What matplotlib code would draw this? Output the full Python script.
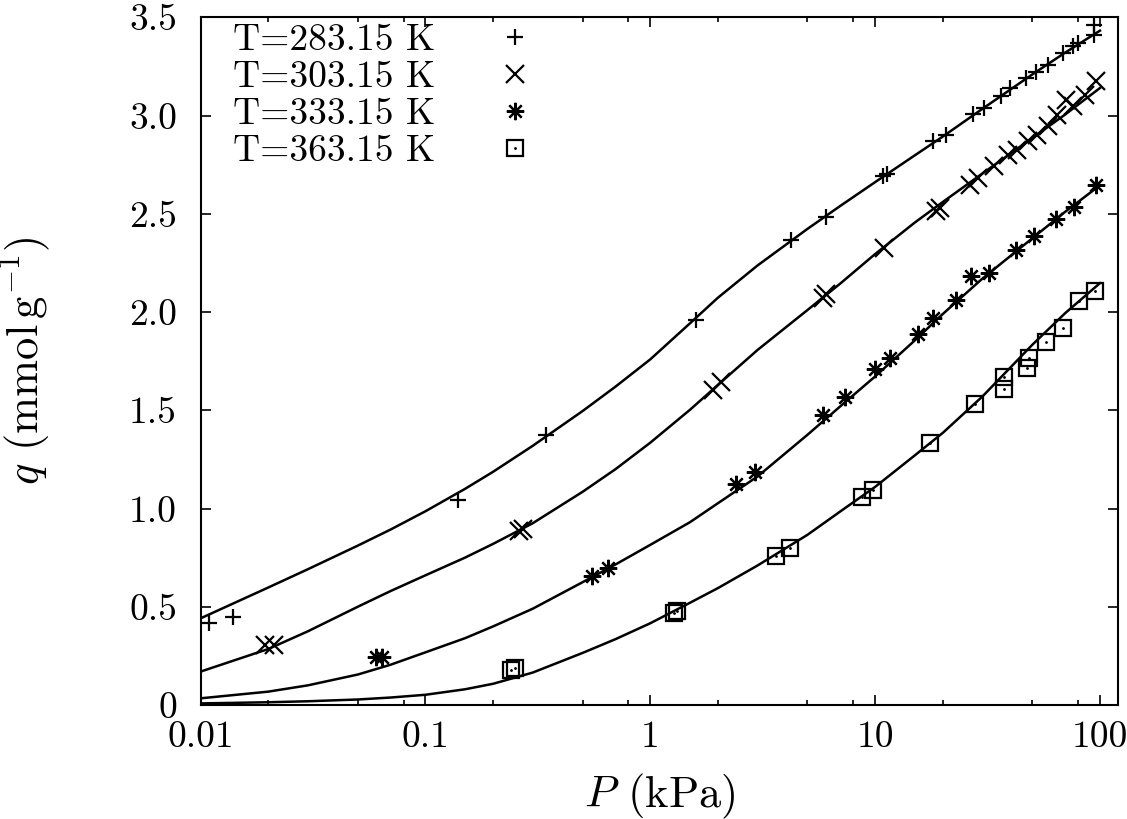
"""CO2 isotherms: q vs P at four temperatures (log P axis)."""
import matplotlib
matplotlib.use("Agg")
import matplotlib.pyplot as plt
from matplotlib.ticker import FixedLocator, FuncFormatter, LogLocator, NullFormatter

plt.rcParams["font.family"] = ["cmr10", "DejaVu Serif"]
plt.rcParams["mathtext.fontset"] = "cm"
plt.rcParams["axes.formatter.use_mathtext"] = True

# measured points (kPa, mmol/g)
p_283 = [0.0109, 0.0140, 0.140, 0.345, 1.60, 4.24, 6.06, 10.8, 11.3, 18.0, 20.7,
         27.2, 30.6, 36.3, 40.0, 47.0, 52.0, 59.0, 68.3, 75.9, 79.6, 94.3, 94.3]
q_283 = [0.419, 0.450, 1.044, 1.375, 1.957, 2.368, 2.483, 2.690, 2.700, 2.868, 2.902,
         3.010, 3.038, 3.100, 3.140, 3.190, 3.220, 3.259, 3.318, 3.352, 3.369, 3.410, 3.462]

p_303 = [0.0193, 0.0212, 0.262, 0.272, 1.90, 2.06, 5.85, 6.05, 11.0, 18.6, 19.4,
         26.5, 28.6, 33.8, 38.9, 42.9, 47.8, 52.6, 58.6, 64.3, 70.7, 75.9, 85.7, 96.2]
q_303 = [0.305, 0.305, 0.885, 0.895, 1.604, 1.646, 2.070, 2.090, 2.325, 2.515, 2.530,
         2.648, 2.682, 2.741, 2.800, 2.826, 2.868, 2.902, 2.945, 3.004, 3.080, 3.046, 3.106, 3.174]

p_333 = [0.060, 0.064, 0.553, 0.649, 2.41, 2.91, 5.86, 7.31, 9.94, 11.7, 15.5, 18.0,
         22.9, 26.7, 32.2, 42.4, 51.1, 63.8, 76.9, 96.2]
q_333 = [0.246, 0.246, 0.657, 0.696, 1.125, 1.188, 1.477, 1.567, 1.709, 1.765, 1.889, 1.969,
         2.059, 2.184, 2.201, 2.317, 2.388, 2.473, 2.537, 2.648]

p_363 = [0.240, 0.250, 1.28, 1.31, 3.63, 4.19, 8.77, 9.77, 17.5, 27.9, 37.6, 37.6,
         47.2, 48.2, 57.5, 68.3, 80.9, 95.5]
q_363 = [0.180, 0.187, 0.470, 0.476, 0.759, 0.801, 1.061, 1.095, 1.333, 1.533, 1.607, 1.667,
         1.714, 1.765, 1.845, 1.921, 2.054, 2.105]

# fitted curves
p_fit = [0.01, 0.02, 0.03, 0.05, 0.07, 0.1, 0.15, 0.2, 0.3, 0.5, 0.7, 1, 1.5, 2, 3, 5, 7,
         10, 15, 20, 30, 50, 70, 100]
fit_283 = [0.441, 0.598, 0.691, 0.811, 0.893, 0.986, 1.100, 1.187, 1.319, 1.496, 1.620, 1.759,
           1.942, 2.073, 2.237, 2.423, 2.540, 2.661, 2.797, 2.893, 3.034, 3.209, 3.320, 3.432]
fit_303 = [0.170, 0.285, 0.375, 0.500, 0.580, 0.660, 0.750, 0.820, 0.925, 1.085, 1.200, 1.335,
           1.502, 1.629, 1.807, 2.010, 2.145, 2.295, 2.455, 2.560, 2.705, 2.885, 3.005, 3.140]
fit_333 = [0.034, 0.068, 0.100, 0.155, 0.205, 0.268, 0.340, 0.400, 0.490, 0.625, 0.715, 0.815,
           0.930, 1.027, 1.163, 1.375, 1.520, 1.672, 1.855, 1.990, 2.170, 2.375, 2.510, 2.645]
fit_363 = [0.008, 0.014, 0.019, 0.028, 0.038, 0.052, 0.080, 0.108, 0.165, 0.265, 0.335, 0.416,
           0.520, 0.595, 0.710, 0.866, 0.985, 1.110, 1.270, 1.385, 1.570, 1.833, 1.994, 2.147]

labels = ["T=283.15 K", "T=303.15 K", "T=333.15 K", "T=363.15 K"]

fig = plt.figure(figsize=(11.27, 8.19), dpi=100)
ax = fig.add_axes([0.178, 0.1392, 0.8138, 0.8397])

for fit in (fit_283, fit_303, fit_333, fit_363):
    ax.plot(p_fit, fit, color="black", lw=1.8, zorder=2, solid_joinstyle="round")

mk = dict(linestyle="none", color="black", mfc="none", mec="black", mew=1.6, zorder=3)
h1, = ax.plot(p_283, q_283, marker="+", ms=11.5, **mk)
h2, = ax.plot(p_303, q_303, marker="x", ms=12.5, **mk)
h3, = ax.plot(p_333, q_333, marker=(8, 2, 0), ms=12.5, **mk)
h4, = ax.plot(p_363, q_363, marker="s", ms=12, **mk)
h4d, = ax.plot(p_363, q_363, marker=".", ms=2, linestyle="none", color="black", zorder=3)

ax.set_xscale("log")
ax.set_xlim(0.01, 120)
ax.set_ylim(0, 3.5)

ax.xaxis.set_major_locator(FixedLocator([0.01, 0.1, 1, 10, 100]))
ax.xaxis.set_major_formatter(FuncFormatter(lambda v, _: f"{v:g}"))
ax.xaxis.set_minor_locator(LogLocator(base=10, subs=[2, 5, 8]))
ax.xaxis.set_minor_formatter(NullFormatter())
ax.yaxis.set_major_locator(FixedLocator([0, 0.5, 1, 1.5, 2, 2.5, 3, 3.5]))
ax.yaxis.set_major_formatter(FuncFormatter(lambda v, _: "0" if v == 0 else f"{v:.1f}"))

ax.tick_params(which="both", direction="in", top=True, right=True, width=1.2, labelsize=27)
ax.tick_params(which="major", length=7)
ax.tick_params(which="minor", length=3.6)
ax.tick_params(axis="x", pad=11)
ax.tick_params(axis="y", pad=17)
for s in ax.spines.values():
    s.set_linewidth(1.5)

ax.set_xlabel(r"$P$ (kPa)", fontsize=32)
ax.set_ylabel(r"$q$ (mmol$\,$g$^{-1}$)", fontsize=32)
ax.xaxis.set_label_coords(0.5, -0.097)
ax.yaxis.set_label_coords(-0.162, 0.5)

ax.legend([h1, h2, h3, (h4, h4d)], labels, loc="upper left", bbox_to_anchor=(0.035, 0.99),
          frameon=False, markerfirst=False, fontsize=27, borderpad=0, borderaxespad=0,
          labelspacing=0.1, handlelength=1.0, handletextpad=1.65)

fig.savefig("out.png", dpi=100)
